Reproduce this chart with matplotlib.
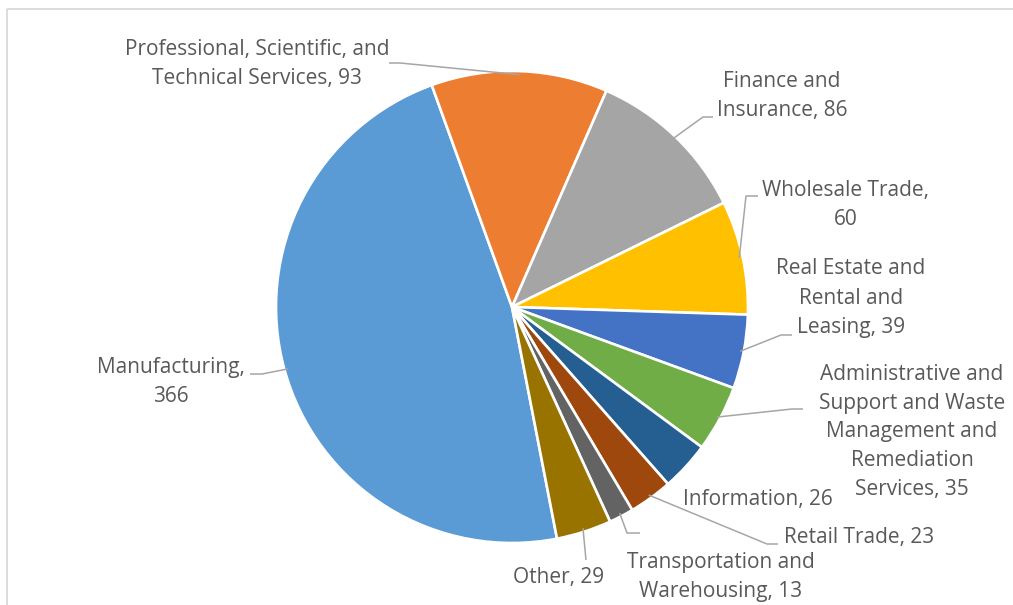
import matplotlib
matplotlib.use("Agg")
import matplotlib.pyplot as plt
from matplotlib.patches import Rectangle
import numpy as np

# Industry breakdown (counts)
categories = [
    "Manufacturing",
    "Professional, Scientific, and Technical Services",
    "Finance and Insurance",
    "Wholesale Trade",
    "Real Estate and Rental and Leasing",
    "Administrative and Support and Waste Management and Remediation Services",
    "Information",
    "Retail Trade",
    "Transportation and Warehousing",
    "Other",
]
values = [366, 93, 86, 60, 39, 35, 26, 23, 13, 29]

# Label text with its line breaks ({} receives the value)
label_templates = [
    "Manufacturing,\n{}",
    "Professional, Scientific, and\nTechnical Services, {}",
    "Finance and\nInsurance, {}",
    "Wholesale Trade,\n{}",
    "Real Estate and\nRental and\nLeasing, {}",
    "Administrative and\nSupport and Waste\nManagement and\nRemediation\nServices, {}",
    "Information, {}",
    "Retail Trade, {}",
    "Transportation and\nWarehousing, {}",
    "Other, {}",
]

colors = ["#5B9BD5", "#ED7D31", "#A5A5A5", "#FFC000", "#4472C4",
          "#70AD47", "#255E91", "#9E480E", "#636363", "#997300"]

W, H = 1013, 605
TEXT = "#595959"
LEADER = "#A6A6A6"

# layout in pixel space (x to the right, y downward)
pie_cx, pie_cy, pie_r = 512, 307, 236
# label block centre, and leader path (knee, end) or None
label_pos = [(171, 382), (257, 64), (782, 96), (846, 205), (851, 298),
             (912, 432), (758, 499), (859, 538), (721, 577), (559, 577)]
leader_path = [
    [(262, 374), (250, 374)],
    [(400, 63), (389, 63)],
    [(703, 117), (713, 117)],
    [(746, 196), (758, 196)],
    [(781, 335), (792, 335)],
    [(792, 409), (803, 409)],
    None,
    [(767, 544), (778, 544)],
    [(627, 533), (640, 533)],
    [(586, 560)],
]


def P(x, y):
    return x, H - y


fig = plt.figure(figsize=(W / 100, H / 100), dpi=100)
ax = fig.add_axes([0, 0, 1, 1])

wedges, _ = ax.pie(values, colors=colors, startangle=-79, counterclock=False,
                   center=P(pie_cx, pie_cy), radius=pie_r,
                   wedgeprops=dict(edgecolor="white", linewidth=1.9))

ax.set_xlim(0, W)
ax.set_ylim(0, H)
ax.set_aspect("auto")
ax.axis("off")

# chart area border (top and left edges visible)
ax.add_patch(Rectangle(P(7, 9), W + 50, -(H + 50), fill=False,
                       edgecolor="#D9D9D9", linewidth=1.3, clip_on=False))

cx, cy = P(pie_cx, pie_cy)
for w, tmpl, v, pos, path in zip(wedges, label_templates, values,
                                 label_pos, leader_path):
    ax.text(*P(*pos), tmpl.format(v), ha="center", va="center",
            fontsize=15, family="Open Sans", color=TEXT, linespacing=1.5)
    if path is None:
        continue
    mid = np.deg2rad((w.theta1 + w.theta2) / 2)
    start = (cx + 0.985 * pie_r * np.cos(mid), cy + 0.985 * pie_r * np.sin(mid))
    pts = [start] + [P(*p) for p in path]
    xs, ys = zip(*pts)
    ax.plot(xs, ys, color=LEADER, linewidth=1.1, solid_capstyle="butt")

fig.savefig("out.png", dpi=100)
